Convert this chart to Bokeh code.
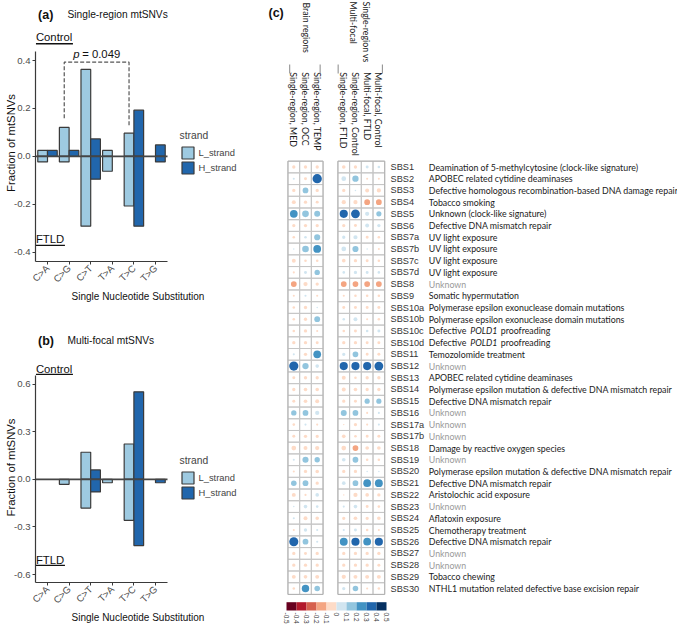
import math
import numpy as np
from bokeh.plotting import figure
from bokeh.layouts import row, column
from bokeh.models import (ColumnDataSource, FixedTicker, PrintfTickFormatter,
                          Legend, LegendItem, Range1d, LinearColorMapper)
from bokeh.core.properties import value
from bokeh.embed import file_html
from bokeh.resources import INLINE

# ------------------------------------------------------------------ data
substitutions = ["C>A", "C>G", "C>T", "T>A", "T>C", "T>G"]
strand_names = ["L_strand", "H_strand"]

# (a) Single-region mtSNVs : Control (upwards) / FTLD (downwards)
a_L_control = [0.025, 0.121, 0.363, 0.025, 0.097, 0.0]
a_L_ftld = [0.023, 0.023, 0.291, 0.062, 0.207, 0.0]
a_H_control = [0.025, 0.025, 0.073, 0.0, 0.193, 0.048]
a_H_ftld = [0.0, 0.0, 0.095, 0.0, 0.291, 0.023]
a_yticks = [-0.4, -0.2, 0.0, 0.2, 0.4]
a_pvalue = "0.049"

# (b) Multi-focal mtSNVs
b_L_control = [0.0, 0.0, 0.171, 0.0, 0.223, 0.0]
b_L_ftld = [0.0, 0.031, 0.181, 0.021, 0.258, 0.0]
b_H_control = [0.0, 0.0, 0.060, 0.0, 0.552, 0.0]
b_H_ftld = [0.0, 0.0, 0.079, 0.0, 0.417, 0.021]
b_yticks = [-0.6, -0.3, 0.0, 0.3, 0.6]

# (c) signature correlation matrix
signatures = ["SBS1", "SBS2", "SBS3", "SBS4", "SBS5", "SBS6", "SBS7a", "SBS7b", "SBS7c",
              "SBS7d", "SBS8", "SBS9", "SBS10a", "SBS10b", "SBS10c", "SBS10d", "SBS11",
              "SBS12", "SBS13", "SBS14", "SBS15", "SBS16", "SBS17a", "SBS17b", "SBS18",
              "SBS19", "SBS20", "SBS21", "SBS22", "SBS23", "SBS24", "SBS25", "SBS26",
              "SBS27", "SBS28", "SBS29", "SBS30"]
aetiology = [
    "Deamination of 5-methylcytosine (clock-like signature)",
    "APOBEC related cytidine deaminases",
    "Defective homologous recombination-based DNA damage repair",
    "Tobacco smoking",
    "Unknown (clock-like signature)",
    "Defective DNA mismatch repair",
    "UV light exposure",
    "UV light exposure",
    "UV light exposure",
    "UV light exposure",
    "Unknown",
    "Somatic hypermutation",
    "Polymerase epsilon exonuclease domain mutations",
    "Polymerase epsilon exonuclease domain mutations",
    "Defective POLD1 proofreading",
    "Defective POLD1 proofreading",
    "Temozolomide treatment",
    "Unknown",
    "APOBEC related cytidine deaminases",
    "Polymerase epsilon mutation & defective DNA mismatch repair",
    "Defective DNA mismatch repair",
    "Unknown",
    "Unknown",
    "Unknown",
    "Damage by reactive oxygen species",
    "Unknown",
    "Polymerase epsilon mutation & defective DNA mismatch repair",
    "Defective DNA mismatch repair",
    "Aristolochic acid exposure",
    "Unknown",
    "Aflatoxin exposure",
    "Chemotherapy treatment",
    "Defective DNA mismatch repair",
    "Unknown",
    "Unknown",
    "Tobacco chewing",
    "NTHL1 mutation related defective base excision repair",
]
group_brain = "Brain regions"
group_focal = ["Single-region vs", "Multi-focal"]
column_labels = ["Single-region, MED", "Single-region, OCC", "Single-region, TEMP",
                 "Single-region, FTLD", "Single-region, Control",
                 "Multi-focal, FTLD", "Multi-focal, Control"]
sr_med = [-0.05, 0.02, -0.05, -0.07, 0.27, -0.05, -0.03, 0.01, -0.07, -0.02, -0.15, -0.02, -0.03,
          -0.03, -0.03, -0.05, 0.02, 0.38, -0.04, -0.05, -0.04, 0.13, -0.03, -0.04, -0.10, 0.02,
          -0.02, 0.14, -0.07, 0.01, 0.02, -0.02, 0.37, -0.05, -0.05, -0.07, -0.03]
sr_occ = [-0.05, -0.04, 0.15, -0.05, 0.20, -0.05, 0.03, 0.20, -0.03, 0.04, -0.08, 0.02, -0.05,
          -0.05, -0.05, -0.05, -0.05, 0.18, -0.05, -0.06, -0.06, 0.15, 0.02, -0.05, -0.07, 0.17,
          -0.05, 0.15, -0.02, 0.06, -0.07, 0.05, 0.15, -0.04, -0.05, -0.06, 0.25]
sr_temp = [-0.05, 0.39, -0.05, -0.04, 0.16, -0.05, 0.17, 0.27, -0.03, 0.13, -0.05, -0.02, 0.01,
           0.15, -0.02, -0.04, 0.27, 0.06, -0.05, -0.06, -0.07, 0.08, -0.02, -0.05, -0.08, 0.13,
           -0.06, -0.05, 0.06, 0.03, -0.06, 0.02, 0.02, -0.05, -0.05, -0.07, 0.14]
sr_ftld = [-0.06, 0.10, -0.05, -0.08, 0.30, -0.05, 0.05, 0.10, -0.06, 0.03, -0.15, -0.02, -0.04,
           0.03, -0.03, -0.05, 0.05, 0.30, -0.07, -0.07, -0.05, 0.16, -0.01, -0.06, -0.10, 0.06,
           -0.05, 0.06, -0.01, 0.02, -0.05, 0.02, 0.28, -0.05, -0.05, -0.08, 0.05]
sr_control = [-0.05, 0.18, 0.01, -0.08, 0.35, -0.04, 0.08, 0.17, -0.05, 0.05, -0.15, -0.03, -0.04,
              0.07, -0.04, -0.05, 0.15, 0.30, -0.03, -0.06, -0.04, 0.15, -0.05, -0.03, -0.15, 0.15,
              -0.05, 0.15, -0.08, 0.06, -0.06, 0.04, 0.30, -0.05, -0.05, -0.07, 0.14]
mf_ftld = [0.04, -0.02, -0.07, -0.15, 0.08, 0.07, -0.04, 0.01, -0.04, 0.04, -0.15, -0.03, -0.04,
           -0.02, 0.03, -0.04, -0.04, 0.30, -0.05, -0.05, 0.12, -0.02, -0.02, -0.04, -0.06, -0.03,
           0.01, 0.27, -0.06, -0.04, -0.05, -0.03, 0.27, -0.05, -0.05, -0.07, -0.02]
mf_control = [0.03, -0.02, -0.08, -0.15, 0.12, 0.05, -0.03, -0.02, -0.03, 0.03, -0.15, -0.03, -0.04,
              -0.03, 0.04, -0.04, -0.04, 0.35, -0.05, -0.05, 0.12, 0.02, 0.02, -0.04, -0.06, -0.03,
              0.01, 0.28, -0.05, -0.03, -0.06, -0.02, 0.30, -0.05, -0.04, -0.07, -0.03]
colorbar_ticks = [-0.5, -0.4, -0.3, -0.2, -0.1, 0.0, 0.1, 0.2, 0.3, 0.4, 0.5]
colorbar_labels = ["-0.5", "-0.4", "-0.3", "-0.2", "-0.1", "0", "0.1", "0.2", "0.3", "0.4", "0.5"]

# ------------------------------------------------------------------ style
FONT = "Liberation Sans"
CAL = "Lato"
L_COLOR = "#9ecae1"
H_COLOR = "#2166ac"
EDGE = "#3a3a3a"
INK = "#111111"
RDBU10 = ["#67001f", "#b2182b", "#d6604d", "#f4a582", "#fddbc7",
          "#d1e5f0", "#92c5de", "#4393c3", "#2166ac", "#053061"]

LEFT_W = 240
FRAME_LEFT = 35
PPU_X = 21.6
X0 = 1 - (47 - FRAME_LEFT) / PPU_X
X_BOUND = (X0, 6.556)


def header(tag, title, h, ty):
    f = figure(width=LEFT_W, height=h, x_range=Range1d(0, LEFT_W), y_range=Range1d(h, 0),
               x_axis_location=None, y_axis_location=None, min_border=0,
               toolbar_location=None, output_backend="svg", outline_line_color=None)
    f.grid.grid_line_color = None
    f.text(x=[3], y=[ty], text=[tag], text_font=value(FONT), text_font_style="bold",
           text_font_size="12.5px", text_baseline="middle", text_color=INK)
    f.text(x=[37.5], y=[ty], text=[title], text_font=value(FONT), text_font_size="10.2px",
           text_baseline="middle", text_color=INK)
    return f


def bar_source(up, down, offset):
    xs, tops, bottoms = [], [], []
    for i, (u, d) in enumerate(zip(up, down)):
        if u > 0:
            xs.append(i + 1 + offset); tops.append(u); bottoms.append(0.0)
        if d > 0:
            xs.append(i + 1 + offset); tops.append(0.0); bottoms.append(-d)
    return ColumnDataSource(dict(x=xs, top=tops, bottom=bottoms))


def bar_panel(Lc, Lf, Hc, Hf, yticks, ybounds, y_range, height, min_bottom,
              ctrl, ftld, legend_bottom):
    p = figure(width=LEFT_W, height=height,
               x_range=Range1d(X0, X0 + (LEFT_W - FRAME_LEFT) / PPU_X),
               y_range=Range1d(*y_range),
               min_border_left=FRAME_LEFT, min_border_right=0, min_border_top=0,
               min_border_bottom=min_bottom, toolbar_location=None,
               output_backend="svg", outline_line_color=None)
    p.grid.grid_line_color = None

    rL = p.vbar(x="x", top="top", bottom="bottom", width=0.45, source=bar_source(Lc, Lf, -0.225),
                fill_color=L_COLOR, line_color=EDGE, line_width=1.2)
    rH = p.vbar(x="x", top="top", bottom="bottom", width=0.45, source=bar_source(Hc, Hf, 0.225),
                fill_color=H_COLOR, line_color=EDGE, line_width=1.2)
    p.segment(x0=[X_BOUND[0]], y0=[0], x1=[X_BOUND[1]], y1=[0], line_color="#454545", line_width=1.6)

    p.xaxis.ticker = FixedTicker(ticks=list(range(1, len(substitutions) + 1)))
    p.xaxis.major_label_overrides = {i + 1: s for i, s in enumerate(substitutions)}
    p.xaxis.major_label_orientation = math.pi / 4
    p.xaxis.bounds = X_BOUND
    p.xaxis.axis_label = "Single Nucleotide Substitution"
    p.yaxis.ticker = FixedTicker(ticks=yticks)
    p.yaxis.formatter = PrintfTickFormatter(format="%.1f")
    p.yaxis.bounds = ybounds
    p.yaxis.axis_label = "Fraction of mtSNVs"
    for ax in p.axis:
        ax.axis_line_color = EDGE
        ax.axis_line_width = 1.2
        ax.major_tick_line_color = EDGE
        ax.major_tick_in = 0
        ax.major_tick_out = 3
        ax.minor_tick_line_color = None
        ax.major_label_text_font = FONT
        ax.major_label_text_font_size = "9.6px"
        ax.major_label_text_color = "#4d4d4d"
        ax.major_label_standoff = 2
        ax.axis_label_text_font = FONT
        ax.axis_label_text_font_style = "normal"
        ax.axis_label_text_color = INK
    p.xaxis.axis_label_standoff = 0
    p.yaxis.axis_label_standoff = -6
    p.xaxis.axis_label_text_font_size = "10px"
    p.yaxis.axis_label_text_font_size = "11.3px"

    # Control / FTLD side labels (underlined)
    x_txt = X0 + 0.02
    for txt, (ty, uy), w in (("Control", ctrl, 37.0), ("FTLD", ftld, 29.0)):
        p.text(x=[x_txt], y=[ty], text=[txt], text_font=value(FONT),
               text_font_size="11.3px", text_baseline="middle", text_color=INK)
        p.segment(x0=[x_txt], y0=[uy], x1=[x_txt + w / PPU_X], y1=[uy],
                  line_color=INK, line_width=1.3)

    legend = Legend(items=[LegendItem(label=strand_names[0], renderers=[rL]),
                           LegendItem(label=strand_names[1], renderers=[rH])],
                    location=(144.5, legend_bottom), title="strand",
                    title_text_font=FONT, title_text_font_size="10.3px",
                    title_text_font_style="normal", title_standoff=4,
                    label_text_font=FONT, label_text_font_size="9.4px",
                    label_standoff=4, glyph_width=15, glyph_height=15,
                    label_height=15, spacing=0, padding=0, margin=0,
                    border_line_color=None, background_fill_alpha=0)
    p.add_layout(legend)
    return p


# panel (a): header 0..24, plot 24..305 (frame 24..263)
ha = header("(a)", "Single-region mtSNVs", 24, 14)
pa = bar_panel(a_L_control, a_L_ftld, a_H_control, a_H_ftld, a_yticks, (-0.4386, 0.4357),
               (-0.4386, 0.5503), 281, 42, (0.4965, 0.470), (-0.346, -0.371), 86.3)
xl, xr = 2 - 0.225, 5 - 0.225
pa.line(x=[xl, xl, xr, xr], y=[0.159, 0.393, 0.393, 0.124], line_dash="4 2",
        line_color="#555555", line_width=1.2)
pa.text(x=[1 + (72.7 - 47) / PPU_X], y=[0.428], text=["p"], text_font=value(FONT),
        text_font_style="italic", text_font_size="11.3px", text_baseline="middle", text_color=INK)
pa.text(x=[1 + (81.7 - 47) / PPU_X], y=[0.428], text=["= " + a_pvalue], text_font=value(FONT),
        text_font_size="11.3px", text_baseline="middle", text_color=INK)

# panel (b): header 305..352, plot 352..626 (frame 352..584)
hb = header("(b)", "Multi-focal mtSNVs", 47, 35)
pb = bar_panel(b_L_control, b_L_ftld, b_H_control, b_H_ftld, b_yticks, (-0.65, 0.656),
               (-0.65, 0.80), 274, 42, (0.698, 0.6625), (-0.511, -0.542), 81.7)

# ------------------------------------------------------------------ panel (c)
CELL_X = 11.7
CELL_Y = 11.71
C_W = 677 - LEFT_W
C_H = 626
XS = -(293.3 - LEFT_W) / CELL_X
YE = 166.5 / CELL_Y
pc = figure(width=C_W, height=C_H, x_range=Range1d(XS, XS + C_W / CELL_X),
            y_range=Range1d(YE - C_H / CELL_Y, YE), x_axis_location=None, y_axis_location=None,
            min_border=0, toolbar_location=None, output_backend="svg",
            outline_line_color=None)
pc.grid.grid_line_color = None

GAP = 1.27
col_x = [0, 1, 2] + [3 + GAP + k for k in range(4)]
columns = [sr_med, sr_occ, sr_temp, sr_ftld, sr_control, mf_ftld, mf_control]
cx, cy, cv = [], [], []
for j, col in enumerate(columns):
    for i, v in enumerate(col):
        cx.append(col_x[j]); cy.append(-i); cv.append(v)
cv = np.array(cv)
sizes = 0.9 * CELL_X * np.sqrt(np.abs(cv) / 0.5)
mapper = LinearColorMapper(palette=RDBU10, low=-0.5, high=0.5)
src = ColumnDataSource(dict(x=cx, y=cy, v=cv, s=sizes))
pc.rect(x="x", y="y", width=1, height=1, source=src, fill_color=None,
        line_color="#c6c6c6", line_width=1)
nrow = len(signatures)
for x0, x1 in ((col_x[0] - 0.5, col_x[2] + 0.5), (col_x[3] - 0.5, col_x[6] + 0.5)):
    pc.rect(x=[(x0 + x1) / 2], y=[-(nrow - 1) / 2], width=x1 - x0, height=nrow,
            fill_color=None, line_color="#b0b0b0", line_width=1)
pc.scatter(x="x", y="y", size="s", source=src, marker="circle",
           fill_color={"field": "v", "transform": mapper}, line_color=None)

# row labels and aetiologies
TXT = "#1a1a1a"
rows_y = [-i for i in range(nrow)]
pc.text(x=[(390 - LEFT_W) / CELL_X + XS] * nrow, y=rows_y, text=signatures,
        text_font=value(FONT), text_font_size="9.2px", text_baseline="middle",
        text_color="#333333")
DX = (428.3 - LEFT_W) / CELL_X + XS
DESC_SIZE = "8.8px"
for i, d in enumerate(aetiology):
    if "POLD1" in d:
        a, b = d.split("POLD1")
        pc.text(x=[DX], y=[-i], text=[a.strip()], text_font=value(CAL), text_font_size=DESC_SIZE,
                text_baseline="middle", text_color=TXT)
        pc.text(x=[DX + 3.55], y=[-i], text=["POLD1"], text_font=value(CAL),
                text_font_style="italic", text_font_size=DESC_SIZE,
                text_baseline="middle", text_color=TXT)
        pc.text(x=[DX + 6.15], y=[-i], text=[b.strip()], text_font=value(CAL),
                text_font_size=DESC_SIZE, text_baseline="middle", text_color=TXT)
    else:
        pc.text(x=[DX], y=[-i], text=[d], text_font=value(CAL), text_font_size=DESC_SIZE,
                text_baseline="middle",
                text_color="#9a9a9a" if d == "Unknown" else TXT)


def ry(y_ref):
    return YE - y_ref / CELL_Y


# column headers (rotated, reading downwards)
pc.text(x=col_x, y=[ry(71.7)] * len(col_x), text=column_labels, angle=-math.pi / 2,
        text_font=value(CAL), text_font_size="8.8px", text_align="left",
        text_baseline="middle", text_color=TXT)
pc.text(x=[1.1], y=[ry(2)], text=[group_brain], angle=-math.pi / 2, text_font=value(CAL),
        text_font_size="8.8px", text_align="left", text_baseline="middle", text_color=TXT)
pc.text(x=[6.19, 5.13], y=[ry(1), ry(1)], text=group_focal, angle=-math.pi / 2,
        text_font=value(CAL), text_font_size="8.8px", text_align="left",
        text_baseline="middle", text_color=TXT)
sep_x = [col_x[0] - 0.35, col_x[2] + 0.25, col_x[3] - 0.48, col_x[6] + 0.3]
pc.segment(x0=sep_x, y0=[ry(64)] * 4, x1=sep_x, y1=[ry(73)] * 4,
           line_color="#888888", line_width=1)

# panel tag
pc.text(x=[(268 - LEFT_W) / CELL_X + XS], y=[ry(12)], text=["(c)"], text_font=value(FONT),
        text_font_style="bold", text_font_size="12.5px", text_baseline="middle", text_color=INK)

# colour bar
CB0, CB1 = (286 - LEFT_W) / CELL_X + XS, (386 - LEFT_W) / CELL_X + XS


def cbx(v):
    return CB0 + (v + 0.5) * (CB1 - CB0)


cb_mid = [(colorbar_ticks[k] + colorbar_ticks[k + 1]) / 2 for k in range(len(colorbar_ticks) - 1)]
pc.rect(x=[cbx(v) for v in cb_mid], y=[(ry(601.7) + ry(610)) / 2] * len(cb_mid),
        width=(CB1 - CB0) / len(cb_mid), height=8.3 / CELL_Y,
        fill_color=RDBU10, line_color=None)
pc.text(x=[cbx(v) for v in colorbar_ticks], y=[ry(612)] * len(colorbar_ticks),
        text=colorbar_labels, angle=-math.pi / 2, text_font=value(FONT),
        text_font_size="6.5px", text_align="left", text_baseline="middle",
        text_color="#333333")

layout = row(column(ha, pa, hb, pb), pc)
open("out.html", "w").write(file_html(layout, INLINE))
